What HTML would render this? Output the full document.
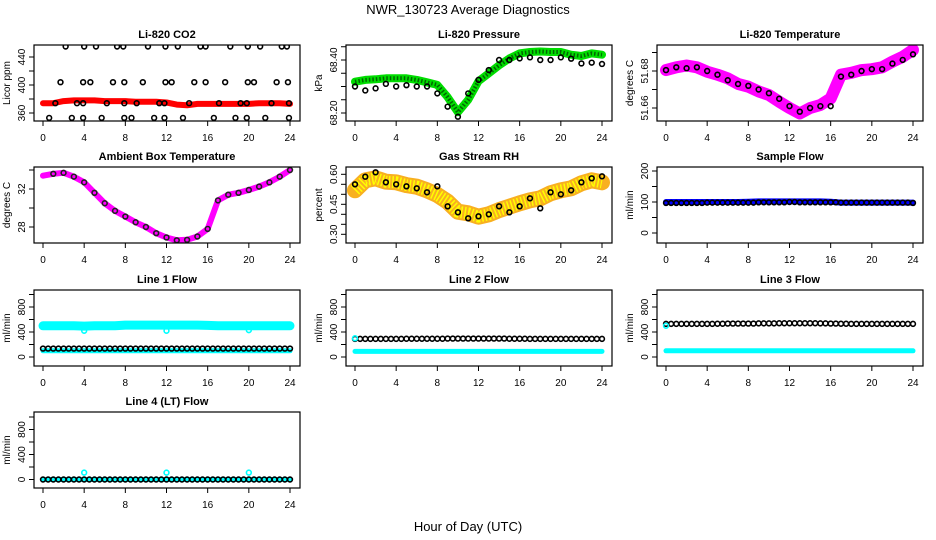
<!DOCTYPE html>
<html><head><meta charset="utf-8"><style>
body{margin:0;background:#fff;}
svg{display:block;font-family:"Liberation Sans",Arial,sans-serif;}
</style></head><body>
<svg id="chart" width="936" height="540" viewBox="0 0 936 540" xmlns="http://www.w3.org/2000/svg">
<rect width="936" height="540" fill="#fff"/>
<text x="468" y="14" text-anchor="middle" font-size="13">NWR_130723  Average Diagnostics</text>
<text x="468" y="531" text-anchor="middle" font-size="13">Hour of Day (UTC)</text>
</svg>
<script>
// ---- data (hourly values) ----
const hours = [0,1,2,3,4,5,6,7,8,9,10,11,12,13,14,15,16,17,18,19,20,21,22,23,24];
const xTicks = [0,4,8,12,16,20,24];

const co2Band = [374,374,377,378,378,378,377,377,377,376,376,376,375,372,371,373,373,373,373,373,373,374,374,374,373];
const co2HiHours = [2.2,4.0,5.15,7.2,7.8,10.2,11.9,13.1,15.3,15.8,18.2,19.9,21.1,23.2,23.7];
const co2MidHours = [1.7,3.9,4.6,6.8,7.9,9.7,11.9,12.5,14.7,15.8,17.7,19.9,20.5,22.7,23.8];
const co2LowHours = [1.2,3.3,3.9,6.2,7.9,9.1,11.3,11.8,14.2,17.1,19.2,19.8,22.2,23.9];
const co2BotHours = [0.6,2.8,3.9,5.7,7.9,8.6,10.8,11.8,13.6,16.6,18.7,19.8,21.6,23.9];

const presBand = [68.318,68.325,68.327,68.331,68.331,68.331,68.325,68.316,68.306,68.26,68.203,68.25,68.32,68.35,68.38,68.406,68.425,68.43,68.432,68.43,68.43,68.42,68.415,68.425,68.42];
const presPts  = [68.30,68.285,68.293,68.31,68.30,68.305,68.30,68.30,68.274,68.224,68.186,68.274,68.325,68.362,68.40,68.40,68.406,68.41,68.40,68.40,68.41,68.405,68.387,68.39,68.385];

const tempBand = [51.6805,51.682,51.683,51.682,51.6796,51.678,51.676,51.673,51.6715,51.669,51.667,51.6634,51.660,51.657,51.660,51.6616,51.6652,51.678,51.679,51.6805,51.681,51.682,51.685,51.6877,51.6914];
const tempPts  = [51.6805,51.682,51.6815,51.682,51.680,51.678,51.675,51.673,51.672,51.670,51.668,51.665,51.661,51.658,51.660,51.661,51.661,51.677,51.678,51.680,51.681,51.681,51.684,51.686,51.689];

const ambBand = [33.4,33.6,33.7,33.3,32.7,31.6,30.5,29.7,29.1,28.5,28.0,27.35,26.9,26.6,26.65,27.0,27.8,30.8,31.4,31.6,31.9,32.25,32.7,33.3,34.0];

const rhBand = [0.52,0.57,0.58,0.563,0.56,0.546,0.538,0.52,0.497,0.463,0.413,0.405,0.388,0.40,0.421,0.438,0.455,0.47,0.48,0.505,0.52,0.53,0.555,0.57,0.56];
const rhPts  = [0.55,0.588,0.61,0.56,0.55,0.54,0.53,0.51,0.54,0.44,0.41,0.38,0.39,0.40,0.44,0.41,0.44,0.48,0.43,0.51,0.50,0.52,0.56,0.58,0.59];

const sampleBand = [100,100,100,100,100,100,100,100,101,102,102,102,102,102,102,102,101,98,98,98,98,98,98,98,98];
const samplePts  = [97,97,97,97,98,98,98,98,98,99,99,99,100,99,99,99,99,98,98,98,98,98,98,98,97];

const l1Cyan = [500,500,500,500,495,500,500,500,510,510,510,510,510,510,510,510,505,500,500,500,500,500,500,500,500];
const l1CyanLow = [100,100,100,100,100,100,100,100,100,100,100,100,100,100,100,100,100,100,100,100,100,100,100,100,100];
const l1Black = [135,135,135,135,135,135,135,135,135,135,135,135,135,135,135,135,135,135,135,135,135,135,135,135,135];
const l1Dips = [420,420,430];
const l1DipHours = [4,12,20];

const l2Black = [290,290,290,290,290,292,292,292,292,295,295,295,295,295,295,292,292,290,290,290,290,290,290,290,290];
const l2Cyan = [90,90,90,90,90,90,90,90,90,90,90,90,90,90,90,90,90,90,90,90,90,90,90,90,90];

const l3Black = [530,530,530,530,530,532,535,535,535,538,538,540,540,540,540,538,535,532,530,530,530,530,530,530,530];
const l3Cyan = [100,100,100,100,100,100,100,100,100,100,100,100,100,100,100,100,100,100,100,100,100,100,100,100,100];

const l4Black = [0,0,0,0,0,0,0,0,0,0,0,0,0,0,0,0,0,0,0,0,0,0,0,0,0];
const l4Spikes = [110,110,110];
const l4SpikeHours = [4,12,20];

// ---- layout ----
const NS = "http://www.w3.org/2000/svg";
const svg = document.getElementById('chart');
const colLeft = [34, 346, 657], rowTop = [45, 167, 290, 412], W = 266, H = 76;

function mk(tag, attrs, parent) {
  const e = document.createElementNS(NS, tag);
  for (const k in attrs) e.setAttribute(k, attrs[k]);
  (parent || svg).appendChild(e);
  return e;
}

function panel(cfg) {
  const L = colLeft[cfg.col], T = rowTop[cfg.row];
  const g = mk('g', {});
  
  
  const xs = h => L + 9 + h * (247 / 24);
  const ys = v => cfg.p1 + (v - cfg.v1) * (cfg.p2 - cfg.p1) / (cfg.v2 - cfg.v1);
  const clip = 'clip-' + cfg.name;
  const cp = mk('clipPath', { id: clip }, g);
  mk('rect', { x: L, y: T, width: W, height: H }, cp);
  const data = mk('g', { 'clip-path': 'url(#' + clip + ')' }, g);
  const t = mk('text', { x: L + W / 2, y: T - 7, 'text-anchor': 'middle', 'font-size': 11, 'font-weight': 'bold' }, g);
  
  
  t.textContent = cfg.title;
  const yl = mk('text', { x: 0, y: 0, transform: `translate(${L - 24},${T + H / 2}) rotate(-90)`, 'text-anchor': 'middle', 'font-size': 10 }, g);
  
  
  yl.textContent = cfg.ylab;
  for (const h of xTicks) {
    const x = xs(h);
    mk('line', { x1: x, x2: x, y1: T + H, y2: T + H + 5, stroke: '#000' }, g);
    const tl = mk('text', { x: x, y: T + H + 20, 'text-anchor': 'middle', 'font-size': 10 }, g);
    
    
    tl.textContent = h;
  }
  for (const v of cfg.ticks) {
    const y = ys(v);
    mk('line', { x1: L - 5, x2: L, y1: y, y2: y, stroke: '#000' }, g);
  }
  for (const v of cfg.labels) {
    const y = ys(v);
    const tl = mk('text', { x: 0, y: 0, transform: `translate(${L - 9},${y}) rotate(-90)`, 'text-anchor': 'middle', 'font-size': 10 }, g);
    
    
    tl.textContent = cfg.fmt ? cfg.fmt(v) : v;
  }
  (cfg.bands || []).forEach(b => {
    const d = b.vals.map((v, i) => (i ? 'L' : 'M') + xs((b.hrs || hours)[i]).toFixed(1) + ',' + ys(v).toFixed(1)).join(' ');
    const p = mk('path', { d: d, fill: 'none', stroke: b.color, 'stroke-width': b.w, 'stroke-linejoin': 'round', 'stroke-linecap': 'round' }, data);
    
    
    if (b.dash) mk('path', { d: d, fill: 'none', stroke: b.dash, 'stroke-width': b.w - 4, 'stroke-dasharray': '1.5 2', 'stroke-linejoin': 'round' }, data);
  });
  (cfg.pts || []).forEach(s => {
    s.vals.forEach((v, i) => {
      const c = mk('circle', { cx: xs((s.hrs || hours)[i]), cy: ys(v), r: s.r || 2.4, fill: 'none', stroke: s.color, 'stroke-width': 1.6 }, data);
      
      
    });
  });
  const box = mk('rect', { x: L, y: T, width: W, height: H, fill: 'none', stroke: '#000', 'stroke-width': 1.2 }, g);
  
  
}
const halfHours = hours.slice(0, 24).map(h => h + 0.5);

panel({ name: 'co2-panel', col: 0, row: 0, title: 'Li-820 CO2', ylab: 'Licor ppm', v1: 360, p1: 113, v2: 440, p2: 57,
  ticks: [360, 380, 400, 420, 440], labels: [360, 400, 440],
  bands: [{ vals: co2Band, color: '#f00', w: 6 }],
  pts: [{ vals: co2HiHours.map(() => 455), hrs: co2HiHours, color: '#000' },
        { vals: co2MidHours.map(() => 404), hrs: co2MidHours, color: '#000' },
        { vals: co2LowHours.map(() => 374), hrs: co2LowHours, color: '#000' },
        { vals: co2BotHours.map(() => 353), hrs: co2BotHours, color: '#000' }] });

panel({ name: 'pressure-panel', col: 1, row: 0, title: 'Li-820 Pressure', ylab: 'kPa', v1: 68.2, p1: 113, v2: 68.4, p2: 60,
  ticks: [68.2, 68.25, 68.3, 68.35, 68.4, 68.45], labels: [68.2, 68.4], fmt: v => v.toFixed(2),
  bands: [{ vals: presBand, color: '#0d0', w: 8, dash: '#060' }],
  pts: [{ vals: presPts, color: '#000' }] });

panel({ name: 'li820-temp-panel', col: 2, row: 0, title: 'Li-820 Temperature', ylab: 'degrees C', v1: 51.66, p1: 108, v2: 51.68, p2: 71,
  ticks: [51.66, 51.67, 51.68, 51.69], labels: [51.66, 51.68], fmt: v => v.toFixed(2),
  bands: [{ vals: tempBand, color: '#f0f', w: 12 }],
  pts: [{ vals: tempPts, color: '#000' }] });

panel({ name: 'ambient-temp-panel', col: 0, row: 1, title: 'Ambient Box Temperature', ylab: 'degrees C', v1: 28, p1: 227, v2: 32, p2: 189,
  ticks: [28, 30, 32, 34], labels: [28, 32],
  bands: [{ vals: ambBand, color: '#f0f', w: 6 }],
  pts: [{ vals: ambBand.slice(1), hrs: hours.slice(1), color: '#222' }] });

panel({ name: 'rh-panel', col: 1, row: 1, title: 'Gas Stream RH', ylab: 'percent', v1: 0.30, p1: 234.3, v2: 0.60, p2: 174.3,
  ticks: [0.30, 0.35, 0.40, 0.45, 0.50, 0.55, 0.60], labels: [0.30, 0.45, 0.60], fmt: v => v.toFixed(2),
  bands: [{ vals: rhBand, color: '#f8b020', w: 16, dash: '#ff0' }],
  pts: [{ vals: rhPts, color: '#000' }] });

panel({ name: 'sample-flow-panel', col: 2, row: 1, title: 'Sample Flow', ylab: 'ml/min', v1: 0, p1: 233, v2: 200, p2: 171,
  ticks: [0, 50, 100, 150, 200], labels: [0, 100, 200],
  bands: [{ vals: sampleBand, color: '#00f', w: 6 }],
  pts: [{ vals: samplePts, color: '#000' }, { vals: samplePts.slice(0, 24), hrs: halfHours, color: '#000' }] });

const flowTicks = [0, 200, 400, 600, 800, 1000], flowLabels = [0, 400, 800];

panel({ name: 'line1-flow-panel', col: 0, row: 2, title: 'Line 1 Flow', ylab: 'ml/min', v1: 0, p1: 357, v2: 800, p2: 307,
  ticks: flowTicks, labels: flowLabels,
  bands: [{ vals: l1Cyan, color: '#0ff', w: 9 }, { vals: l1CyanLow, color: '#0ff', w: 5 }],
  pts: [{ vals: l1Black, color: '#000' }, { vals: l1Black.slice(0, 24), hrs: halfHours, color: '#000' },
        { vals: l1Dips, hrs: l1DipHours, color: '#0ff' }] });

panel({ name: 'line2-flow-panel', col: 1, row: 2, title: 'Line 2 Flow', ylab: 'ml/min', v1: 0, p1: 357, v2: 800, p2: 307,
  ticks: flowTicks, labels: flowLabels,
  bands: [{ vals: l2Cyan, color: '#0ff', w: 5 }],
  pts: [{ vals: l2Black, color: '#000' }, { vals: l2Black.slice(0, 24), hrs: halfHours, color: '#000' },
        { vals: [300], hrs: [0], color: '#0ff' }] });

panel({ name: 'line3-flow-panel', col: 2, row: 2, title: 'Line 3 Flow', ylab: 'ml/min', v1: 0, p1: 357, v2: 800, p2: 307,
  ticks: flowTicks, labels: flowLabels,
  bands: [{ vals: l3Cyan, color: '#0ff', w: 5 }],
  pts: [{ vals: l3Black, color: '#000' }, { vals: l3Black.slice(0, 24), hrs: halfHours, color: '#000' },
        { vals: [500], hrs: [0], color: '#0ff' }] });

panel({ name: 'line4-flow-panel', col: 0, row: 3, title: 'Line 4 (LT) Flow', ylab: 'ml/min', v1: 0, p1: 479.5, v2: 800, p2: 429.5,
  ticks: flowTicks, labels: flowLabels,
  bands: [{ vals: l4Black, color: '#0ff', w: 5 }],
  pts: [{ vals: l4Black, color: '#000' }, { vals: l4Black.slice(0, 24), hrs: halfHours, color: '#000' },
        { vals: l4Spikes, hrs: l4SpikeHours, color: '#0ff' }] });
</script>
</body></html>
